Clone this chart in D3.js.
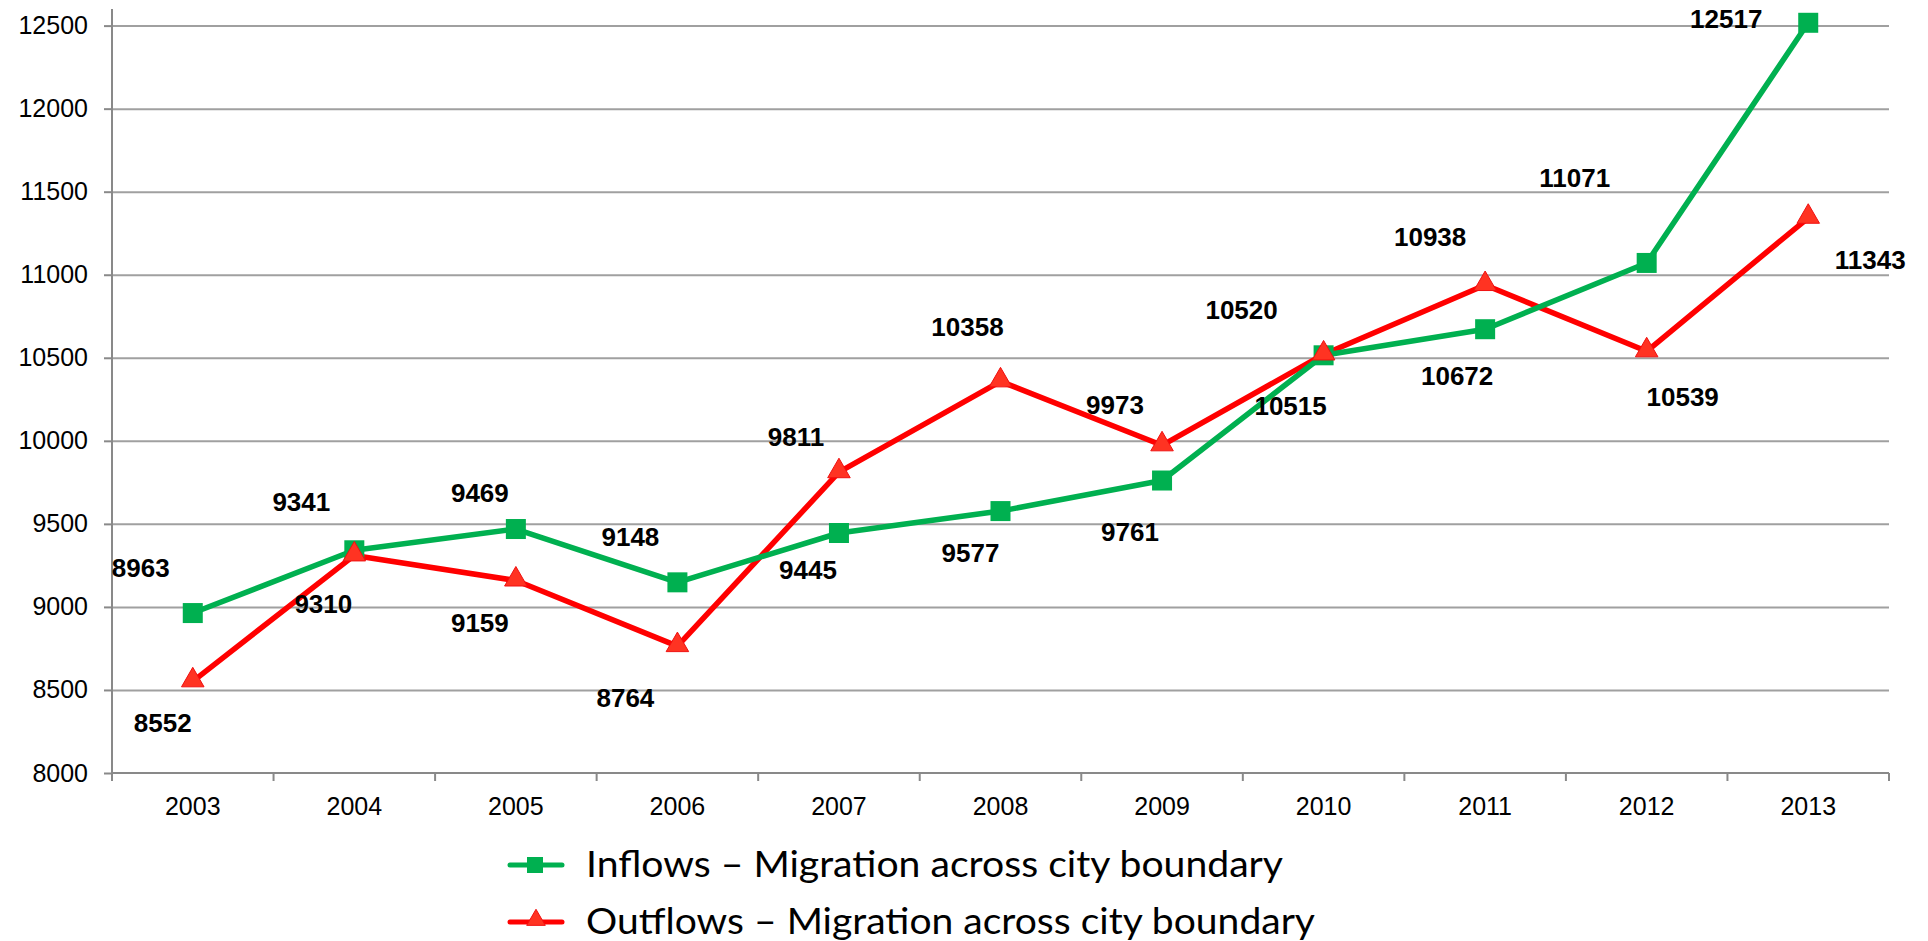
<!DOCTYPE html>
<html>
<head>
<meta charset="utf-8">
<script src="https://cdn.jsdelivr.net/npm/d3@7"></script>
<style>
  body { margin: 0; background: #fff; }
  .axis text { font-family: "Liberation Sans", Arial, sans-serif; fill: #000; }
  .axis path, .axis line { stroke: #898989; stroke-width: 2px; }
  .grid line { stroke: #a0a0a0; stroke-width: 2px; }
  .grid path { display: none; }
  .lbl { font-family: "Liberation Sans", Arial, sans-serif; font-weight: bold; font-size: 26px; fill: #000; }
  .legend text { font-family: Lato, "Noto Sans", sans-serif; font-size: 37px; fill: #000; }
</style>
</head>
<body>
<svg id="chart" width="1928" height="941"></svg>
<script>
// migration across city boundary

var years = ["2003", "2004", "2005", "2006", "2007", "2008", "2009", "2010", "2011", "2012", "2013"];
var inflows = [8963, 9341, 9469, 9148, 9445, 9577, 9761, 10515, 10672, 11071, 12517];
var outflows = [8552, 9310, 9159, 8764, 9811, 10358, 9973, 10520, 10938, 10539, 11343];
var yTicks = [8000, 8500, 9000, 9500, 10000, 10500, 11000, 11500, 12000, 12500];
var seriesNames = ["Inflows \u2013 Migration across city boundary", "Outflows \u2013 Migration across city boundary"];

// label placement (dx, dy from the point), as in the original
var inflowLabelPos = [[-52, -45], [-53, -48], [-36, -36], [-47, -45], [-31, 37], [-30, 42], [-32, 51], [-33, 51], [-28, 47], [-72, -85], [-82, -4]];
var outflowLabelPos = [[-30, 42], [-31, 48], [-36, 42], [-52, 52], [-43, -35], [-33, -54], [-47, -40], [-82, -45], [-55, -48], [36, 46], [62, 42]];

var svg = d3.select("#chart"),
    margin = {top: 9, right: 39, bottom: 168, left: 112},
    width = +svg.attr("width") - margin.left - margin.right,
    height = +svg.attr("height") - margin.top - margin.bottom;

var green = "#00b050", red = "#ff0000";

var x = d3.scaleBand().domain(years).range([0, width]).padding(0),
    y = d3.scaleLinear().domain([8000, 12600]).range([height, 0]);

function cx(i) { return x(years[i]) + x.bandwidth() / 2; }

var g = svg.append("g")
    .attr("transform", "translate(" + margin.left + "," + margin.top + ")");

// gridlines
g.append("g")
    .attr("class", "grid")
    .call(d3.axisLeft(y).tickValues(yTicks.slice(1)).tickSize(-width).tickFormat(""));

// y axis
var yAxis = g.append("g")
    .attr("class", "axis")
    .call(d3.axisLeft(y).tickValues(yTicks).tickSize(8).tickPadding(16).tickFormat(d3.format("d")));
yAxis.selectAll("text").style("font-size", "25px");
yAxis.select(".domain").attr("d", "M0," + height + "V0");

// x axis: labels centred, ticks on category boundaries
var xAxis = g.append("g")
    .attr("class", "axis")
    .attr("transform", "translate(0," + height + ")")
    .call(d3.axisBottom(x).tickSize(0).tickPadding(24));
xAxis.selectAll("text").style("font-size", "25px");
xAxis.select(".domain").attr("d", "M0,0H" + width);
xAxis.selectAll(".bound")
    .data(years.map(function(d) { return x(d); }).concat([width]))
    .enter().append("line")
    .attr("x1", function(d) { return d; })
    .attr("x2", function(d) { return d; })
    .attr("y1", 0)
    .attr("y2", 8);

var line = d3.line()
    .x(function(d, i) { return cx(i); })
    .y(function(d) { return y(d); });

var tri = d3.symbol().type(d3.symbolTriangle).size(220);

// outflows
g.append("path")
    .attr("d", line(outflows))
    .attr("fill", "none")
    .attr("stroke", red)
    .attr("stroke-width", 5.5)
    .attr("stroke-linejoin", "round");

// inflows
g.append("path")
    .attr("d", line(inflows))
    .attr("fill", "none")
    .attr("stroke", green)
    .attr("stroke-width", 5.5)
    .attr("stroke-linejoin", "round");

g.selectAll(".sq")
    .data(inflows)
    .enter().append("rect")
    .attr("class", "sq")
    .attr("x", function(d, i) { return cx(i) - 10; })
    .attr("y", function(d) { return y(d) - 10; })
    .attr("width", 20)
    .attr("height", 20)
    .attr("fill", green);

g.selectAll(".tri")
    .data(outflows)
    .enter().append("path")
    .attr("class", "tri")
    .attr("d", tri)
    .attr("transform", function(d, i) { return "translate(" + cx(i) + "," + (y(d) - 1) + ")"; })
    .attr("fill", "#ff3322")
    .attr("stroke", "#f01010")
    .attr("stroke-width", 1);

// value labels
function labels(vals, pos) {
    g.selectAll(null)
        .data(vals)
        .enter().append("text")
        .attr("class", "lbl")
        .attr("x", function(d, i) { return cx(i) + pos[i][0]; })
        .attr("y", function(d, i) { return y(d) + pos[i][1]; })
        .attr("text-anchor", "middle")
        .attr("dy", "0.35em")
        .text(function(d) { return d; });
}
labels(inflows, inflowLabelPos);
labels(outflows, outflowLabelPos);

// legend
var legend = svg.append("g").attr("class", "legend");
var legendRows = [
    {name: seriesNames[0], color: green, y: 865, len: 697, mark: "sq"},
    {name: seriesNames[1], color: red, y: 922, len: 729, mark: "tri"}
];
var lg = legend.selectAll("g")
    .data(legendRows)
    .enter().append("g")
    .attr("transform", function(d) { return "translate(0," + d.y + ")"; });

lg.append("line")
    .attr("x1", 510).attr("x2", 562)
    .attr("stroke", function(d) { return d.color; })
    .attr("stroke-width", 5)
    .attr("stroke-linecap", "round");

lg.filter(function(d) { return d.mark == "sq"; })
    .append("rect")
    .attr("x", 527).attr("y", -8)
    .attr("width", 16).attr("height", 16)
    .attr("fill", green);

lg.filter(function(d) { return d.mark == "tri"; })
    .append("path")
    .attr("d", d3.symbol().type(d3.symbolTriangle).size(150))
    .attr("transform", "translate(536,-2)")
    .attr("fill", "#ff3322")
    .attr("stroke", "#f01010");

lg.append("text")
    .attr("x", 586)
    .attr("y", 12)
    .attr("textLength", function(d) { return d.len; })
    .attr("lengthAdjust", "spacingAndGlyphs")
    .text(function(d) { return d.name; });
</script>
</body>
</html>
